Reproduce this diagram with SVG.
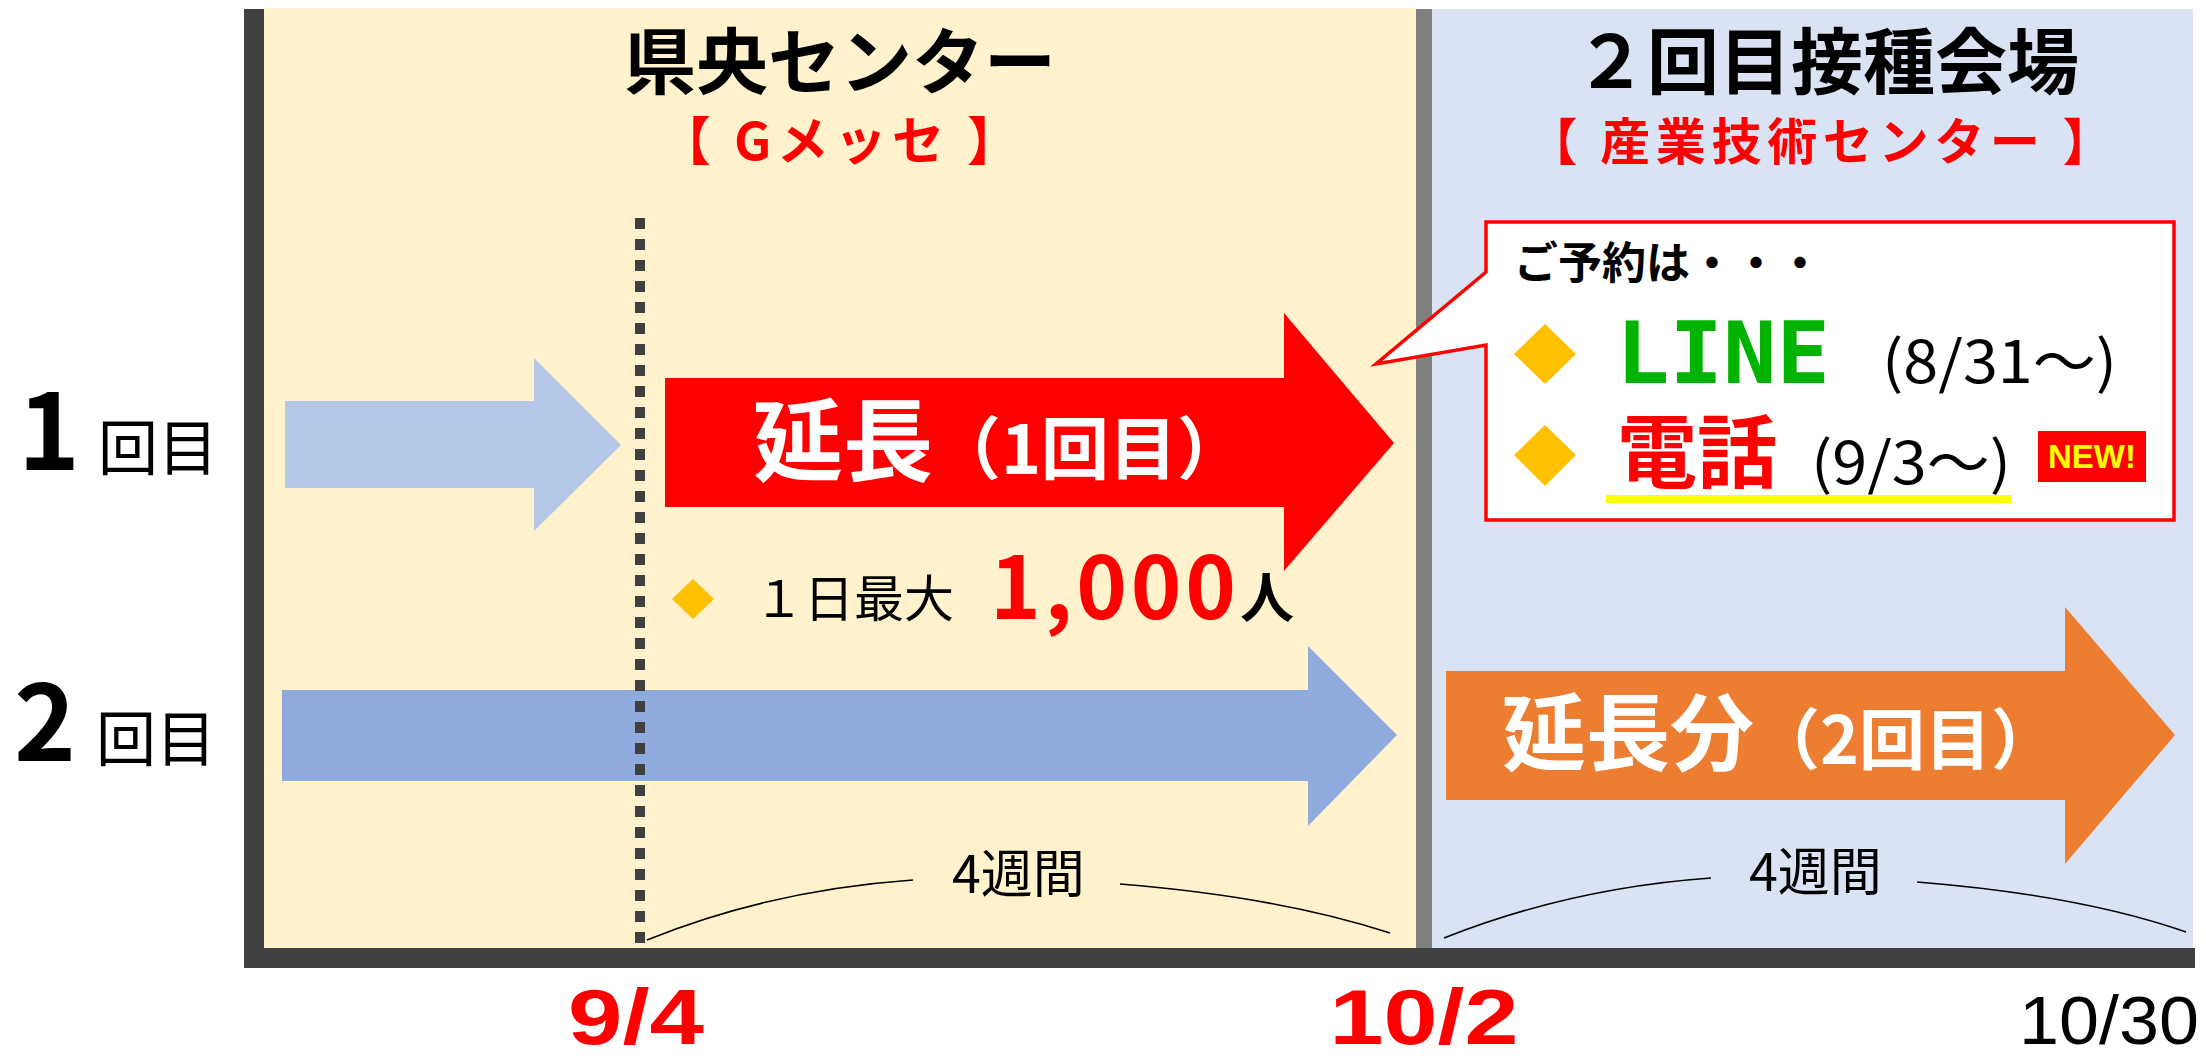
<svg xmlns="http://www.w3.org/2000/svg" width="2206" height="1060" viewBox="0 0 2206 1060">
<style>
.jp{font-family:'Noto Sans CJK JP','Noto Sans CJK SC',sans-serif}
.lat{font-family:'Liberation Sans','Noto Sans CJK JP',sans-serif}
.mono{font-family:'DejaVu Sans Mono','Liberation Mono',monospace}
.b{font-weight:bold}
.red{fill:#FF0000}
.wht{fill:#FFFFFF}
.blk{fill:#000000}
.dia{fill:#FFC000}
.brace{fill:none;stroke:#000;stroke-width:1.6}
</style>
<rect width="2206" height="1060" fill="#FFFFFF"/>
<g id="panels">
  <rect x="264" y="8" width="1152" height="940" fill="#FFF2CC"/>
  <rect x="1432" y="9" width="761" height="939" fill="#DAE3F3"/>
  <rect x="1416" y="9" width="16" height="939" fill="#808080"/>
  <rect x="244" y="9" width="20" height="959" fill="#404040"/>
  <rect x="244" y="948" width="1951" height="20" fill="#404040"/>
</g>
<g id="title-left">
  <text class="jp b blk" x="840" y="88" font-size="72" text-anchor="middle">県央センター</text>
  <text class="jp b red" x="839" y="160" font-size="52" text-anchor="middle" textLength="360" lengthAdjust="spacing">【 Gメッセ 】</text>
</g>
<g id="title-right">
  <text class="jp b blk" x="1827" y="88" font-size="72" text-anchor="middle">２回目接種会場</text>
  <text class="jp b red" x="1820" y="160" font-size="50" text-anchor="middle" textLength="585" lengthAdjust="spacing">【 産業技術センター 】</text>
</g>
<g id="row-labels">
  <text class="jp blk" y="470"><tspan class="b" x="18" font-size="105">1</tspan><tspan x="98" font-size="60">回目</tspan></text>
  <text class="jp blk" y="761"><tspan class="b" x="14" font-size="105">2</tspan><tspan x="96" font-size="60">回目</tspan></text>
</g>
<g id="arrow-dose1">
  <path d="M285,401 H534 V358 L621,445 L534,531 V488 H285 Z" fill="#B4C7E7"/>
</g>
<g id="arrow-dose2">
  <path d="M282,690 H1308 V646 L1397,735 L1308,826 V781 H282 Z" fill="#8FAADC"/>
</g>
<g id="arrow-extension1">
  <path d="M665,378 H1284 V313 L1394,443 L1284,571 V507 H665 Z" fill="#FF0000"/>
  <text class="jp b wht" x="753" y="474" font-size="90">延長<tspan font-size="68">（1回目）</tspan></text>
</g>
<g id="capacity">
  <polygon class="dia" points="693,579 714,599 693,619 672,599"/>
  <text class="jp blk" y="617"><tspan x="754" font-size="50">１日最大</tspan><tspan class="b red" x="990" y="619" font-size="86" textLength="246" lengthAdjust="spacing">1,000</tspan><tspan class="b" x="1240" y="618" font-size="54">人</tspan></text>
</g>
<g id="callout">
  <path d="M1486,222 H2174 V520 H1486 V345 L1376,364 L1486,272 Z" fill="#FFFFFF" stroke="#FF0000" stroke-width="3.5"/>
  <text class="jp b blk" x="1514" y="279" font-size="44">ご予約は・・・</text>
  <polygon class="dia" points="1545,324 1576,354 1545,384 1514,354"/>
  <text class="mono b" x="1616" y="383" font-size="86" fill="#00B300" textLength="214" lengthAdjust="spacingAndGlyphs">LINE</text>
  <text class="jp blk" x="1882" y="383" font-size="58" textLength="235" lengthAdjust="spacingAndGlyphs">(8/31～)</text>
  <polygon class="dia" points="1545,425 1576,455 1545,486 1514,455"/>
  <rect x="1606" y="495" width="405" height="8" fill="#FFFF00"/>
  <text class="jp b red" x="1617" y="481" font-size="80">電話</text>
  <text class="jp blk" x="1811" y="484" font-size="58" textLength="200" lengthAdjust="spacingAndGlyphs">(9/3～)</text>
  <rect x="2038" y="431" width="108" height="51" fill="#FF0000"/>
  <text class="lat b" x="2092" y="468" font-size="33" fill="#FFFF00" text-anchor="middle">NEW!</text>
</g>
<g id="arrow-extension2">
  <path d="M1446,671 H2065 V607 L2175,735 L2065,864 V800 H1446 Z" fill="#ED7D31"/>
  <text class="jp b wht" x="1502" y="764" font-size="84">延長分<tspan font-size="66">（2回目）</tspan></text>
</g>
<g id="connectors">
  <line x1="640" y1="218" x2="640" y2="943" stroke="#404040" stroke-width="10" stroke-dasharray="11 10"/>
  <path class="brace" d="M647,940 Q770,890 913,880"/>
  <path class="brace" d="M1120,884 Q1280,897 1390,933"/>
  <path class="brace" d="M1444,938 Q1570,888 1711,878"/>
  <path class="brace" d="M1917,882 Q2080,895 2186,932"/>
</g>
<g id="duration-labels">
  <text class="jp blk" x="952" y="893" font-size="52">4週間</text>
  <text class="jp blk" x="1749" y="891" font-size="52">4週間</text>
</g>
<g id="dates">
  <text class="lat b red" x="636" y="1044" font-size="78" text-anchor="middle" textLength="136" lengthAdjust="spacingAndGlyphs">9/4</text>
  <text class="lat b red" x="1424" y="1044" font-size="78" text-anchor="middle" textLength="189" lengthAdjust="spacingAndGlyphs">10/2</text>
  <text class="lat blk" x="2199" y="1044" font-size="68" text-anchor="end" textLength="180" lengthAdjust="spacingAndGlyphs">10/30</text>
</g>
</svg>
